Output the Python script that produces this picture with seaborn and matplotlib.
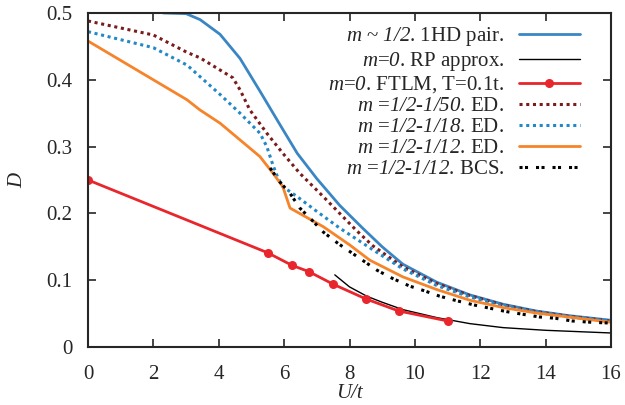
import numpy as np
import pandas as pd
import matplotlib
matplotlib.use("Agg")
import matplotlib.pyplot as plt
import seaborn as sns

# ---- data ----
hd_x = [2.3, 3.0, 3.43, 4.04, 4.65, 5.26, 5.87, 6.4, 7.0, 7.7, 8.4, 9.0, 9.63, 10.67, 11.68, 12.7, 13.7, 14.7, 16.0]
hd_y = [0.5, 0.499, 0.490, 0.468, 0.432, 0.383, 0.333, 0.29, 0.252, 0.212, 0.178, 0.150, 0.124, 0.097, 0.078, 0.064, 0.054, 0.047, 0.040]

rp_x = [7.55, 8.0, 8.53, 9.0, 9.63, 10.67, 11.68, 12.7, 14.0, 15.0, 16.0]
rp_y = [0.108, 0.090, 0.076, 0.067, 0.056, 0.044, 0.035, 0.029, 0.025, 0.023, 0.021]

ftlm_x = [0.0, 5.5, 6.25, 6.75, 7.5, 8.5, 9.5, 11.0]
ftlm_y = [0.25, 0.141, 0.122, 0.113, 0.094, 0.072, 0.054, 0.039]

ed50_x = [0.0, 2.0, 3.03, 3.42, 4.43, 4.65, 4.95, 5.47, 5.96, 6.48, 7.2, 8.2, 8.7, 9.63, 10.67, 11.68, 12.7, 13.7, 14.7, 16.0]
ed50_y = [0.488, 0.467, 0.441, 0.433, 0.403, 0.385, 0.355, 0.32, 0.29, 0.26, 0.225, 0.175, 0.152, 0.120, 0.095, 0.077, 0.063, 0.053, 0.046, 0.039]

ed18_x = [0.0, 2.0, 3.03, 3.42, 4.04, 4.65, 5.26, 5.47, 5.66, 5.81, 5.96, 6.4, 7.0, 7.7, 8.7, 9.63, 10.67, 11.68, 12.7, 13.7, 14.7, 16.0]
ed18_y = [0.472, 0.448, 0.422, 0.405, 0.378, 0.35, 0.32, 0.30, 0.272, 0.253, 0.24, 0.225, 0.203, 0.178, 0.146, 0.117, 0.092, 0.075, 0.062, 0.052, 0.045, 0.039]

ed12_x = [0.0, 3.03, 3.42, 4.04, 4.65, 5.26, 5.66, 5.96, 6.18, 7.2, 8.0, 8.62, 9.63, 10.67, 11.68, 12.7, 13.7, 16.0]
ed12_y = [0.458, 0.37, 0.355, 0.335, 0.31, 0.285, 0.26, 0.24, 0.208, 0.18, 0.153, 0.130, 0.105, 0.086, 0.070, 0.059, 0.051, 0.037]

bcs_x = [5.57, 5.87, 6.18, 6.48, 6.85, 7.2, 7.65, 8.84, 9.3, 9.85, 10.3, 10.76, 11.3, 11.8, 12.3, 12.8, 13.3, 13.8, 14.3, 14.8, 15.4, 15.9]
bcs_y = [0.268, 0.247, 0.23, 0.208, 0.19, 0.172, 0.155, 0.115, 0.103, 0.091, 0.084, 0.076, 0.069, 0.063, 0.058, 0.053, 0.049, 0.045, 0.043, 0.039, 0.037, 0.036]

labels = [
    r"$\mathsf{m}$ ~ $\mathsf{1/2}$. 1HD pair.",
    r"$\mathsf{m}$=$\mathsf{0}$. RP approx.",
    r"$\mathsf{m}$=$\mathsf{0}$. FTLM, T=0.1t.",
    r"$\mathsf{m}$ =$\mathsf{1/2}$-$\mathsf{1/50}$. ED.",
    r"$\mathsf{m}$ =$\mathsf{1/2}$-$\mathsf{1/18}$. ED.",
    r"$\mathsf{m}$ =$\mathsf{1/2}$-$\mathsf{1/12}$. ED.",
    r"$\mathsf{m}$ =$\mathsf{1/2}$-$\mathsf{1/12}$. BCS.",
]

sns.set_style("ticks")
plt.rcParams['font.family'] = ['Liberation Serif', 'DejaVu Serif']
plt.rcParams['mathtext.fontset'] = 'custom'
plt.rcParams['mathtext.rm'] = 'Liberation Serif'
plt.rcParams['mathtext.it'] = 'Liberation Serif:italic'
plt.rcParams['mathtext.sf'] = 'Liberation Serif:italic'

fig = plt.figure(figsize=(6.25, 4.05), dpi=100)
ax = fig.add_axes([0.1408, 0.1432, 0.8368, 0.8248])

series = [
    (hd_x, hd_y, dict(color="#3a86c4", lw=2.0, ls="-")),
    (rp_x, rp_y, dict(color="black", lw=1.0, ls="-")),
    (ftlm_x, ftlm_y, dict(color="#e8262c", lw=2.0, ls="-", marker="o", markersize=6.5, markeredgewidth=0)),
    (ed50_x, ed50_y, dict(color="#7a1c1c", lw=2.2, ls=(0, (1, 1.2)))),
    (ed18_x, ed18_y, dict(color="#2288c6", lw=2.2, ls=(0, (1, 1.2)))),
    (ed12_x, ed12_y, dict(color="#f5842a", lw=2.0, ls="-")),
    (bcs_x, bcs_y, dict(color="black", lw=2.2, ls=(0, (1, 0.8, 1, 2.6)))),
]
for (xs, ys, st), lab in zip(series, labels):
    df = pd.DataFrame({"U": xs, "D": ys})
    sns.lineplot(data=df, x="U", y="D", ax=ax, label=lab, estimator=None, sort=False, **st)

ax.set_xlim(0, 16)
ax.set_ylim(0, 0.5)
ax.set_xticks(np.arange(0, 17, 2))
ax.set_yticks([0, 0.1, 0.2, 0.3, 0.4, 0.5])
ax.set_yticklabels(["0", "0.1", "0.2", "0.3", "0.4", "0.5"])
ax.tick_params(direction="in", top=True, right=True, length=6, width=1.2, labelsize=15)
ax.tick_params(axis="x", pad=13)
ax.tick_params(axis="y", pad=11)
for sp in ax.spines.values():
    sp.set_linewidth(1.5)
ax.set_xlabel("U/t", fontsize=15, style="italic", labelpad=0)
ax.set_ylabel("D", fontsize=15, style="italic", labelpad=14)

leg = ax.legend(loc="upper right", bbox_to_anchor=(0.965, 1.0), markerfirst=False, frameon=False,
                fontsize=15, handlelength=2.95, labelspacing=0.07, handletextpad=0.7, borderaxespad=0.2)

fig.savefig("out.png", dpi=100)
